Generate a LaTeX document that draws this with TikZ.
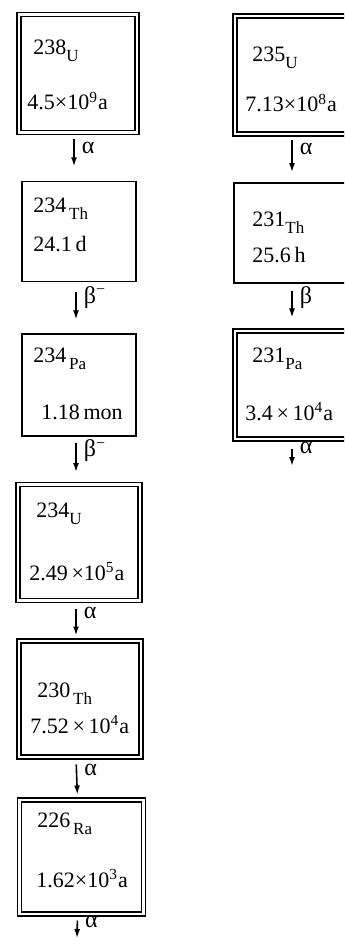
\documentclass[tikz,border=0pt]{standalone}
\usepackage{fontspec}
\setmainfont{Liberation Serif}
\usetikzlibrary{arrows.meta}
\newcommand{\nuc}[2]{#1\raisebox{-3.5pt}{\fontsize{8.5}{10}\selectfont #2}}
\tikzset{
  nucbox/.style={draw,line width=0.7pt,inner sep=0pt},
  nucdbl/.style={nucbox,double,double distance=1.4pt},
  nuctext/.style={anchor=base west,inner sep=0pt,font=\fontsize{11}{13}\selectfont},
  decay/.style={-{Latex[length=4.5pt,width=3pt]},line width=0.8pt},
  decaylab/.style={right=3.5pt,pos=0.3,inner sep=0pt,font=\fontsize{12}{14}\selectfont}
}

\begin{document}
\begin{tikzpicture}[x=0.5pt,y=-0.5pt]
  \clip (0,0) rectangle (344,940);
  % uranium-238 series
  \node[nucdbl,minimum width=59pt,minimum height=59pt] (u238) at (78,73.5) {};
  \node[nuctext] (u238n) at (33,55) {\nuc{238}{U}};
  \node[nuctext] (u238t) at (27,110) {4.5×10\textsuperscript{9}a};

  \node[nucbox,minimum width=57pt,minimum height=50pt] (th234) at (79,231.5) {};
  \node[nuctext] (th234n) at (33,213) {\nuc{234}{\,Th}};
  \node[nuctext] (th234t) at (33,252) {24.1\,d};

  \node[nucbox,minimum width=57pt,minimum height=51pt] (pa234) at (79,385) {};
  \node[nuctext] (pa234n) at (33,363) {\nuc{234}{\,Pa}};
  \node[nuctext] (pa234t) at (41,419) {1.18\,mon};

  \node[nucdbl,minimum width=61pt,minimum height=58pt] (u234) at (79,542.5) {};
  \node[nuctext] (u234n) at (36,517) {\nuc{234}{U}};
  \node[nuctext] (u234t) at (29,580) {2.49\,×10\textsuperscript{5}a};

  \node[nucdbl,minimum width=61pt,minimum height=58pt] (th230) at (80,699) {};
  \node[nuctext] (th230n) at (37,697) {\nuc{230}{\,Th}};
  \node[nuctext] (th230t) at (30,733) {7.52\,×\,10\textsuperscript{4}a};

  \node[nucdbl,minimum width=62pt,minimum height=57pt] (ra226) at (81.5,857) {};
  \node[nuctext] (ra226n) at (37,827) {\nuc{226}{\,Ra}};
  \node[nuctext] (ra226t) at (36,887) {1.62×10\textsuperscript{3}a};
  \coordinate (ra226end) at (77,938);

  % uranium-235 series
  \node[nucdbl,minimum width=59pt,minimum height=59pt] (u235) at (294,75) {};
  \node[nuctext] (u235n) at (252,62) {\nuc{235}{U}};
  \node[nuctext] (u235t) at (245,112) {7.13×10\textsuperscript{8}a};

  \node[nucbox,minimum width=57pt,minimum height=50pt] (th231) at (291,233) {};
  \node[nuctext] (th231n) at (252,227) {\nuc{231}{Th}};
  \node[nuctext] (th231t) at (252,263) {25.6\,h};

  \node[nucdbl,minimum width=59pt,minimum height=54pt] (pa231) at (294,385) {};
  \node[nuctext] (pa231n) at (252,363) {\nuc{231}{Pa}};
  \node[nuctext] (pa231t) at (245,420) {3.4\,×\,10\textsuperscript{4}a};
  \coordinate (pa231end) at (292,466);

  % decays
  \draw[decay,shorten <=2.9pt,shorten >=7.2pt] ([xshift=-2pt]u238.south) -- node[decaylab] (d1) {α} ([xshift=-2.5pt]th234.north);
  \draw[decay,shorten <=4.9pt,shorten >=6.9pt] ([xshift=-1.5pt]th234.south) -- node[decaylab] (d2) {β\textsuperscript{−}} ([xshift=-1.5pt]pa234.north);
  \draw[decay,shorten <=2.9pt,shorten >=5.9pt] ([xshift=-1.5pt]pa234.south) -- node[decaylab] (d3) {β\textsuperscript{−}} ([xshift=-1.5pt]u234.north);
  \draw[decay,shorten <=3.9pt,shorten >=2.4pt] ([xshift=-1.5pt]u234.south) -- node[decaylab] (d4) {α} ([xshift=-2pt]th230.north);
  \draw[decay,shorten <=3.4pt,shorten >=2.4pt] ([xshift=-2pt]th230.south) -- node[decaylab] (d5) {α} ([xshift=-2pt]ra226.north);
  \draw[decay,shorten <=2.9pt] ([xshift=-2pt]ra226.south) -- node[decaylab] (d6) {α} (ra226end);
  \draw[decay,shorten <=2.9pt,shorten >=5.1pt] ([xshift=-1pt]u235.south) -- node[decaylab] (d7) {α} ([xshift=0.5pt]th231.north);
  \draw[decay,shorten <=3.6pt,shorten >=6.4pt] ([xshift=0.5pt]th231.south) -- node[decaylab] (d8) {β} ([xshift=-1pt]pa231.north);
  \draw[decay,shorten <=4.4pt] ([xshift=-1pt]pa231.south) -- node[decaylab] (d9) {α} (pa231end);
\end{tikzpicture}
\end{document}
